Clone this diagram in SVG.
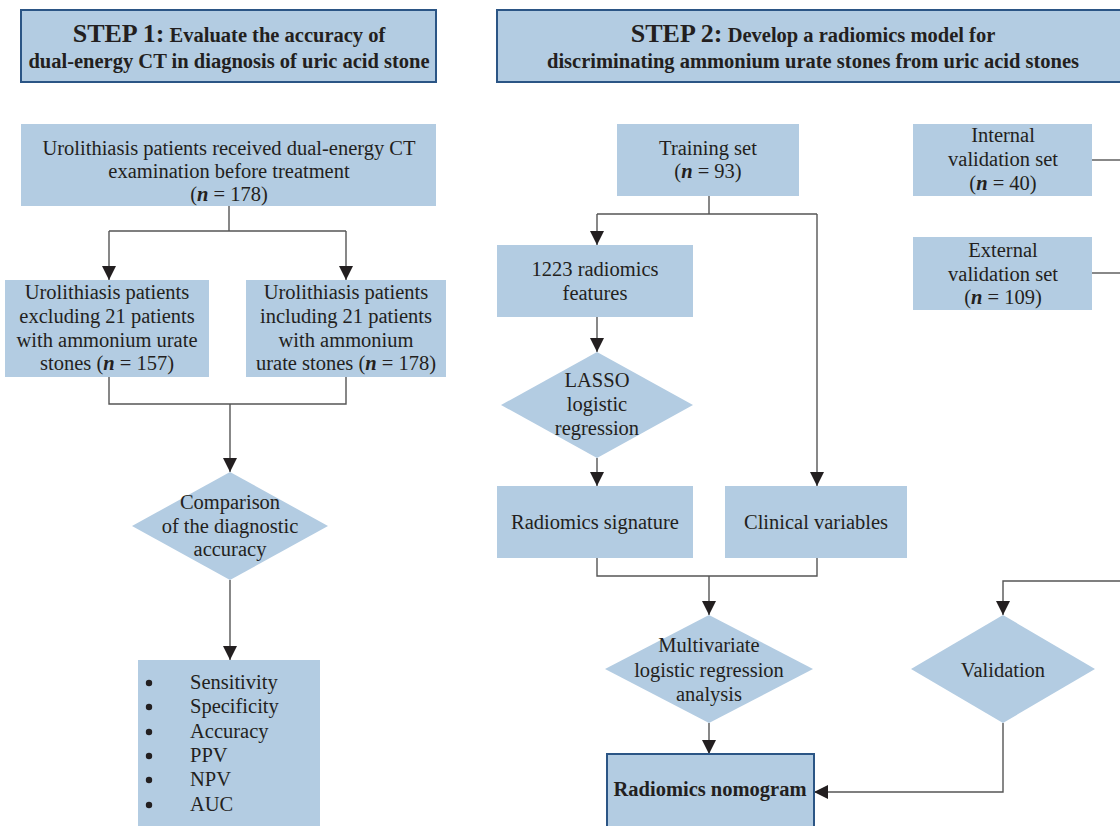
<svg xmlns="http://www.w3.org/2000/svg" width="1120" height="826" viewBox="0 0 1120 826">
<defs>
<style>
.box{fill:#b3cce2;}
.hdr{fill:#b3cce2;stroke:#2b5585;stroke-width:2;}
.t{font-family:"Liberation Serif","Times New Roman",serif;font-size:20.5px;fill:#231f20;text-anchor:middle;}
.h{font-family:"Liberation Serif","Times New Roman",serif;font-weight:bold;fill:#231f20;text-anchor:middle;}
.l{font-family:"Liberation Serif","Times New Roman",serif;font-size:20.5px;fill:#231f20;}
.c{fill:none;stroke:#555;stroke-width:1.4;}
.ni{font-weight:bold;font-style:italic;}
</style>
<marker id="ar" markerUnits="userSpaceOnUse" markerWidth="14" markerHeight="14" refX="14" refY="7" orient="auto">
<path d="M0,0 L14,7 L0,14 z" fill="#231f20"/>
</marker>
</defs>
<rect width="1120" height="826" fill="#ffffff"/>

<g id="step1-header">
<rect class="hdr" x="21" y="10" width="415" height="72"/>
<text class="h" x="229" y="42"><tspan font-size="26">STEP 1:</tspan><tspan font-size="20.5"> Evaluate the accuracy of</tspan></text>
<text class="h" x="229" y="68" font-size="20.5">dual-energy CT in diagnosis of uric acid stone</text>
</g>

<g id="step2-header">
<rect class="hdr" x="497" y="10" width="640" height="72"/>
<text class="h" x="813" y="42"><tspan font-size="26">STEP 2:</tspan><tspan font-size="20.5"> Develop a radiomics model for</tspan></text>
<text class="h" x="813" y="68" font-size="20.5">discriminating ammonium urate stones from uric acid stones</text>
</g>

<g id="connectors">
<path class="c" d="M229,206 V231 M109,231 H346"/>
<path class="c" d="M109,231 V280" marker-end="url(#ar)"/>
<path class="c" d="M346,231 V280" marker-end="url(#ar)"/>
<path class="c" d="M109,377 V404 H346 V377"/>
<path class="c" d="M230,404 V472" marker-end="url(#ar)"/>
<path class="c" d="M230,580 V660" marker-end="url(#ar)"/>

<path class="c" d="M709,196 V214 M597,214 H817"/>
<path class="c" d="M597,214 V245" marker-end="url(#ar)"/>
<path class="c" d="M817,214 V486" marker-end="url(#ar)"/>
<path class="c" d="M597,317 V352" marker-end="url(#ar)"/>
<path class="c" d="M597,458 V486" marker-end="url(#ar)"/>
<path class="c" d="M597,558 V576 H817 V558"/>
<path class="c" d="M709,576 V615" marker-end="url(#ar)"/>
<path class="c" d="M709,723 V754" marker-end="url(#ar)"/>
<path class="c" d="M1092,160 H1120"/>
<path class="c" d="M1092,273 H1120"/>
<path class="c" d="M1120,581 H1003 V615" marker-end="url(#ar)"/>
<path class="c" d="M1003,723 V792 H814" marker-end="url(#ar)"/>
</g>

<g id="n-all-patients">
<rect class="box" x="21" y="124" width="415" height="82"/>
<text class="t" x="229" y="155">Urolithiasis patients received dual-energy CT</text>
<text class="t" x="229" y="178">examination before treatment</text>
<text class="t" x="229" y="201">(<tspan class="ni">n</tspan> = 178)</text>
</g>

<g id="n-excluding">
<rect class="box" x="5" y="280" width="204" height="97"/>
<text class="t" x="107" y="299">Urolithiasis patients</text>
<text class="t" x="107" y="323">excluding 21 patients</text>
<text class="t" x="107" y="347">with ammonium urate</text>
<text class="t" x="107" y="370">stones (<tspan class="ni">n</tspan> = 157)</text>
</g>

<g id="n-including">
<rect class="box" x="246" y="280" width="200" height="97"/>
<text class="t" x="346" y="299">Urolithiasis patients</text>
<text class="t" x="346" y="323">including 21 patients</text>
<text class="t" x="346" y="347">with ammonium</text>
<text class="t" x="346" y="370">urate stones (<tspan class="ni">n</tspan> = 178)</text>
</g>

<g id="n-comparison">
<polygon class="box" points="230,472 328,526 230,580 132,526"/>
<text class="t" x="230" y="509">Comparison</text>
<text class="t" x="230" y="533">of the diagnostic</text>
<text class="t" x="230" y="556">accuracy</text>
</g>

<g id="n-metrics">
<rect class="box" x="138" y="660" width="182" height="170"/>
<g fill="#231f20">
<circle cx="149" cy="683" r="3.2"/>
<circle cx="149" cy="707" r="3.2"/>
<circle cx="149" cy="732" r="3.2"/>
<circle cx="149" cy="756" r="3.2"/>
<circle cx="149" cy="780" r="3.2"/>
<circle cx="149" cy="805" r="3.2"/>
</g>
<text class="l" x="190" y="689">Sensitivity</text>
<text class="l" x="190" y="713">Specificity</text>
<text class="l" x="190" y="738">Accuracy</text>
<text class="l" x="190" y="762">PPV</text>
<text class="l" x="190" y="786">NPV</text>
<text class="l" x="190" y="811">AUC</text>
</g>

<g id="n-training">
<rect class="box" x="617" y="124" width="182" height="72"/>
<text class="t" x="708" y="155">Training set</text>
<text class="t" x="708" y="178">(<tspan class="ni">n</tspan> = 93)</text>
</g>

<g id="n-internal">
<rect class="box" x="913" y="124" width="179" height="72"/>
<text class="t" x="1003" y="142">Internal</text>
<text class="t" x="1003" y="166">validation set</text>
<text class="t" x="1003" y="190">(<tspan class="ni">n</tspan> = 40)</text>
</g>

<g id="n-external">
<rect class="box" x="913" y="237" width="179" height="73"/>
<text class="t" x="1003" y="257">External</text>
<text class="t" x="1003" y="281">validation set</text>
<text class="t" x="1003" y="304">(<tspan class="ni">n</tspan> = 109)</text>
</g>

<g id="n-features">
<rect class="box" x="497" y="245" width="196" height="72"/>
<text class="t" x="595" y="276">1223 radiomics</text>
<text class="t" x="595" y="300">features</text>
</g>

<g id="n-lasso">
<polygon class="box" points="597,352 693,405 597,458 501,405"/>
<text class="t" x="597" y="387">LASSO</text>
<text class="t" x="597" y="411">logistic</text>
<text class="t" x="597" y="435">regression</text>
</g>

<g id="n-signature">
<rect class="box" x="497" y="486" width="196" height="72"/>
<text class="t" x="595" y="529">Radiomics signature</text>
</g>

<g id="n-clinical">
<rect class="box" x="725" y="486" width="182" height="72"/>
<text class="t" x="816" y="529">Clinical variables</text>
</g>

<g id="n-multivariate">
<polygon class="box" points="709,615 813,669 709,723 605,669"/>
<text class="t" x="709" y="652">Multivariate</text>
<text class="t" x="709" y="677">logistic regression</text>
<text class="t" x="709" y="701">analysis</text>
</g>

<g id="n-validation">
<polygon class="box" points="1003,615 1095,669 1003,723 911,669"/>
<text class="t" x="1003" y="677">Validation</text>
</g>

<g id="n-nomogram">
<rect class="hdr" x="607" y="754" width="207" height="80"/>
<text class="h" x="710" y="796" font-size="20.5">Radiomics nomogram</text>
</g>
</svg>
